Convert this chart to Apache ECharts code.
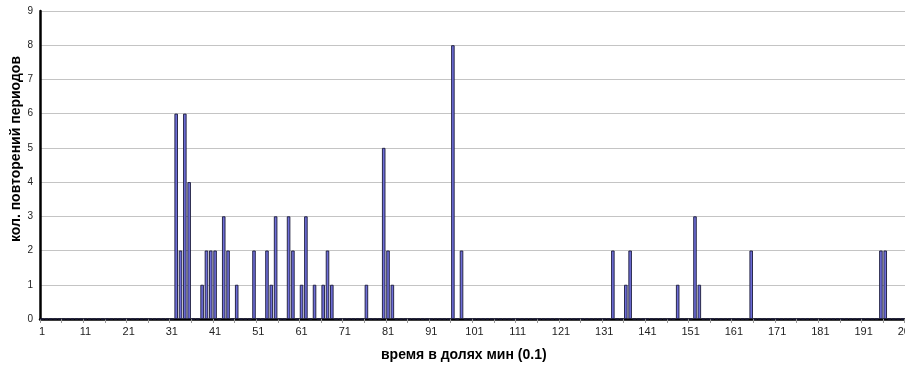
<!DOCTYPE html>
<html>
<head>
<meta charset="utf-8">
<script src="https://cdn.jsdelivr.net/npm/echarts@6/dist/echarts.min.js"></script>
<style>
  html, body { margin: 0; padding: 0; background: #fff; overflow: hidden; }
  #chart { width: 905px; height: 367px; }
</style>
</head>
<body>
<div id="chart"></div>
<script>
// Period length (tenths of a minute) and how often each one was repeated
const periods = [32, 33, 34, 35, 38, 39, 40, 41, 43, 44, 46, 50, 53, 54, 55, 58, 59, 61, 62, 64,
                 66, 67, 68, 76, 80, 81, 82, 96, 98, 133, 136, 137, 148, 152, 153, 165, 195, 196];
const counts  = [6, 2, 6, 4, 1, 2, 2, 2, 3, 2, 1, 2, 2, 1, 3, 3, 2, 1, 3, 1,
                 1, 2, 1, 1, 5, 2, 1, 8, 2, 2, 1, 2, 1, 3, 1, 2, 2, 2];
const firstCategory = 1;
const lastCategory = 201;
const yTicks = [0, 1, 2, 3, 4, 5, 6, 7, 8, 9];

// Category axis: one slot per period value
const categories = [];
for (let c = firstCategory; c <= lastCategory; c++) categories.push(String(c));
const seriesData = categories.map(() => 0);
periods.forEach((p, i) => { seriesData[p - firstCategory] = counts[i]; });

const FONT = '"Liberation Sans", Arial, sans-serif';
const chart = echarts.init(document.getElementById('chart'), null, { renderer: 'canvas' });

chart.setOption({
  animation: false,
  backgroundColor: '#ffffff',
  // the last slot runs slightly past the right edge of the page
  grid: { left: 40, width: 869, top: 11, bottom: 48, containLabel: false, outerBoundsMode: 'none' },
  xAxis: {
    type: 'category',
    data: categories,
    boundaryGap: true,
    axisLine: { show: true, lineStyle: { color: '#000', width: 2.5 } },
    axisTick: { show: true, interval: 4, length: 4, lineStyle: { color: '#999', width: 1 } },
    axisLabel: { interval: 9, color: '#222', fontFamily: FONT, fontSize: 11, margin: 7 },
    splitLine: { show: false }
  },
  yAxis: {
    type: 'value',
    min: yTicks[0],
    max: yTicks[yTicks.length - 1],
    interval: 1,
    axisLine: { show: true, lineStyle: { color: '#000', width: 2.5 } },
    axisTick: { show: false },
    axisLabel: { color: '#222', fontFamily: FONT, fontSize: 10, margin: 7 },
    splitLine: { show: true, lineStyle: { color: '#c4c4c4', width: 1 } }
  },
  series: [{
    type: 'bar',
    data: seriesData,
    barWidth: 3.5,
    itemStyle: { color: '#6e6ed8', borderColor: '#1a1a3a', borderWidth: 0.9 },
    z: 3
  }],
  graphic: [
    {
      type: 'text',
      left: 381, top: 348,
      style: { text: 'время в долях мин (0.1)', fill: '#000', font: 'bold 14px ' + FONT }
    },
    {
      type: 'text',
      x: 9, y: 149,
      rotation: Math.PI / 2,
      style: { text: 'кол. повторений периодов', fill: '#000', font: 'bold 14px ' + FONT,
               align: 'center', verticalAlign: 'top' }
    }
  ]
});
</script>
</body>
</html>
